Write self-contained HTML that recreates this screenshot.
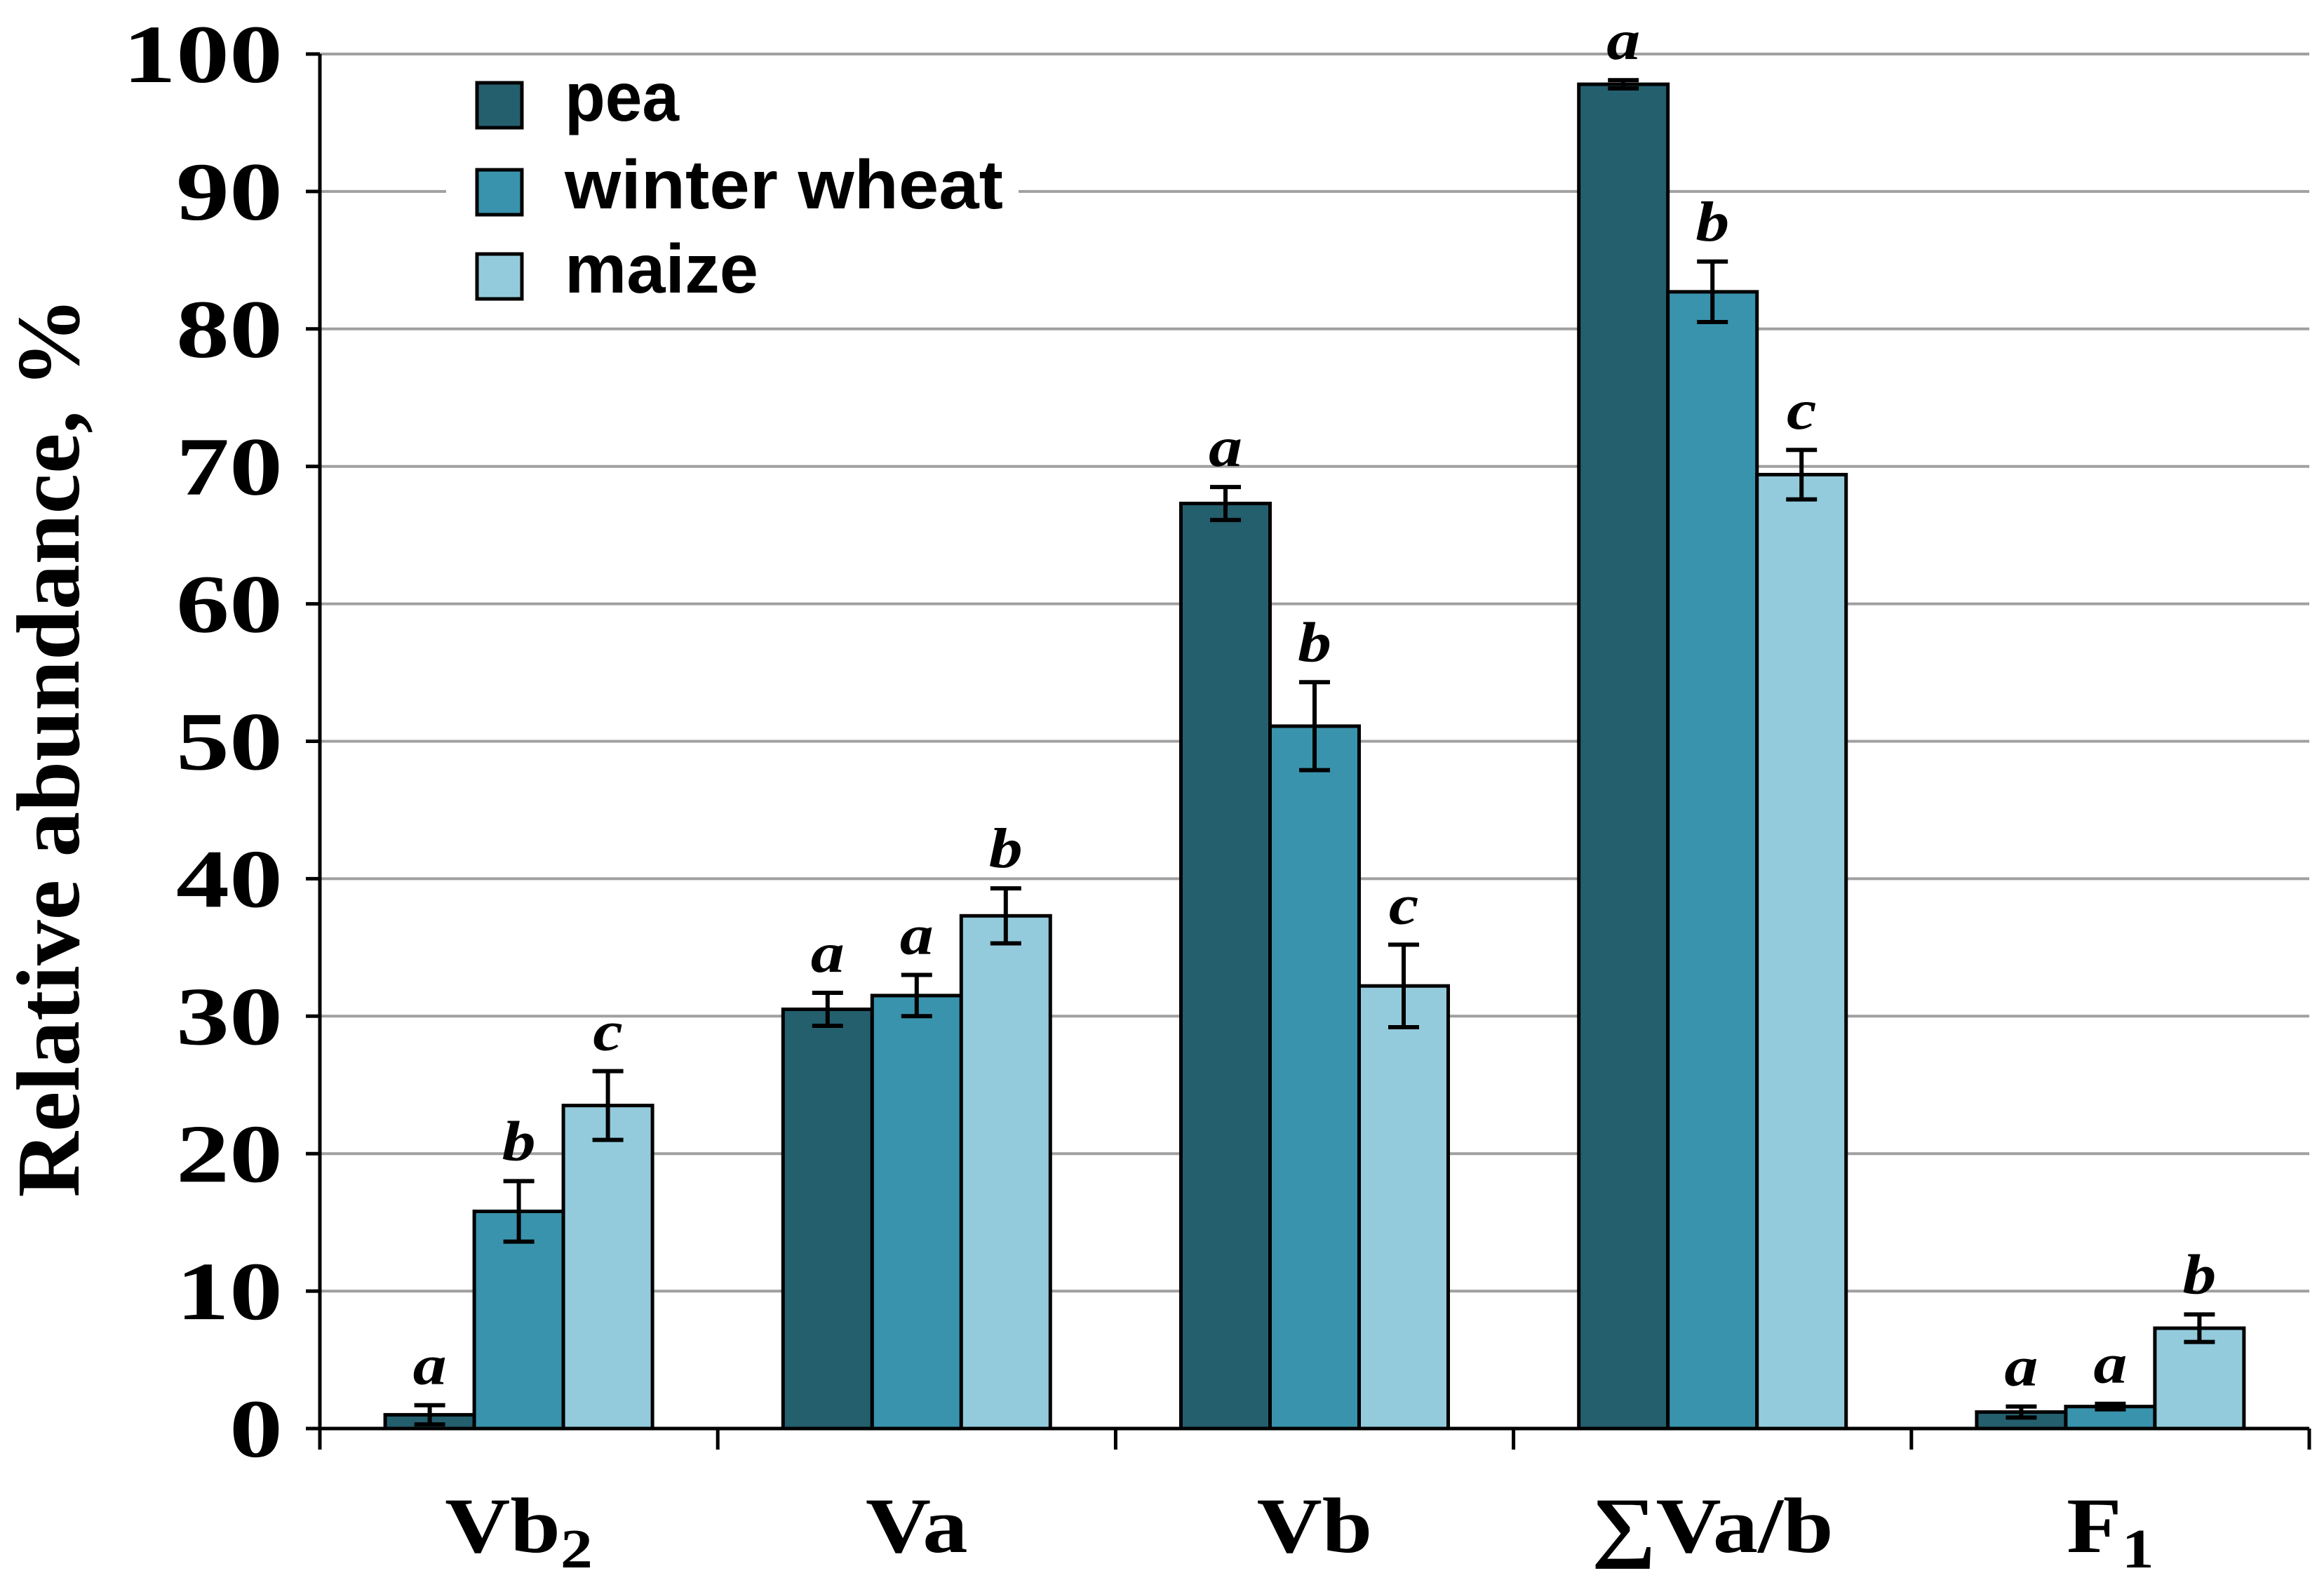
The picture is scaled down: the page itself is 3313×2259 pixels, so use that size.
<!DOCTYPE html>
<html><head><meta charset="utf-8"><style>
html,body{margin:0;padding:0;background:#fff;width:3313px;height:2259px;overflow:hidden}
svg{display:block}
</style></head><body>
<svg id="chart" width="3313" height="2259" viewBox="0 0 3313 2259" xmlns="http://www.w3.org/2000/svg">
<g id="grid"></g>
<g id="bars"></g>
<g id="axes"></g>
<text transform="translate(112,1065) rotate(-90)" text-anchor="middle" font-family="Liberation Serif, serif" font-weight="bold" font-size="128" textLength="1283" lengthAdjust="spacingAndGlyphs">Relative abundance, %</text>
<g>
<rect x="636" y="100" width="816" height="350" fill="#fff"/>
<rect x="680" y="118" width="64" height="64" fill="#245f6e" stroke="#000" stroke-width="5"/>
<text x="805" y="172" font-family="Liberation Sans, sans-serif" font-weight="bold" font-size="98" textLength="163" lengthAdjust="spacingAndGlyphs">pea</text>
<rect x="680" y="242" width="64" height="64" fill="#3a93ad" stroke="#000" stroke-width="5"/>
<text x="805" y="297" font-family="Liberation Sans, sans-serif" font-weight="bold" font-size="98" textLength="625" lengthAdjust="spacingAndGlyphs">winter wheat</text>
<rect x="680" y="362" width="64" height="64" fill="#93cbdc" stroke="#000" stroke-width="5"/>
<text x="805" y="417" font-family="Liberation Sans, sans-serif" font-weight="bold" font-size="98" textLength="276" lengthAdjust="spacingAndGlyphs">maize</text>
</g>
</svg>
<script>
const categories = ["Vb2","Va","Vb","ΣVa/b","F1"];
const seriesNames = ["pea","winter wheat","maize"];
const peaValues = [1.0, 30.5, 67.3, 97.8, 1.2];
const wheatValues = [15.8, 31.5, 51.1, 82.7, 1.6];
const maizeValues = [23.5, 37.3, 32.2, 69.4, 7.3];
const peaErrors = [0.7, 1.2, 1.2, 0.3, 0.4];
const wheatErrors = [2.2, 1.5, 3.2, 2.2, 0.2];
const maizeErrors = [2.5, 2.0, 3.0, 1.8, 1.0];
const peaLetters = ["a","a","a","a","a"];
const wheatLetters = ["b","a","b","b","a"];
const maizeLetters = ["c","b","c","c","b"];
const yTicks = [0,10,20,30,40,50,60,70,80,90,100];

const NS="http://www.w3.org/2000/svg";
const X0=456, X1=3292, Y0=2036, Y100=77;
const colors=["#245f6e","#3a93ad","#93cbdc"];
const catW=(X1-X0)/categories.length;
const barW=127, groupOff=(catW-3*barW)/2;
function y(v){return Y0-(Y0-Y100)*v/100;}
function xBar(ci,si){return X0+ci*catW+groupOff+si*barW;}
function mk(tag,attrs,parent){const e=document.createElementNS(NS,tag);for(const k in attrs)e.setAttribute(k,attrs[k]);parent.appendChild(e);return e;}
const grid=document.getElementById('grid'),bars=document.getElementById('bars'),axes=document.getElementById('axes');
yTicks.forEach(t=>{
  if(t>0){const l=mk('line',{x1:X0,x2:X1,y1:y(t),y2:y(t),stroke:'#a0a0a0','stroke-width':4},grid);
  
  }
  const tk=mk('line',{x1:X0-20,x2:X0,y1:y(t),y2:y(t),stroke:'#000','stroke-width':5},axes);
  
  
  const s=String(t);
  const tx=mk('text',{x:403,y:y(t)+40,'text-anchor':'end','font-family':'Liberation Serif, serif','font-weight':'bold','font-size':118,textLength:s.length*76,lengthAdjust:'spacingAndGlyphs'},axes);
  tx.textContent=s;
  
  
});
const vals=[peaValues,wheatValues,maizeValues], errs=[peaErrors,wheatErrors,maizeErrors], lets=[peaLetters,wheatLetters,maizeLetters];
categories.forEach((c,ci)=>{
  for(let si=0;si<3;si++){
    const v=vals[si][ci], e=errs[si][ci], x=xBar(ci,si);
    const r=mk('rect',{x:x,y:y(v),width:barW,height:Y0-y(v),fill:colors[si],stroke:'#000','stroke-width':5},bars);
    
    
    const cx=x+barW/2;
    const g=mk('g',{stroke:'#000','stroke-width':6},bars);
    
    
    mk('line',{x1:cx,x2:cx,y1:y(v+e),y2:y(v-e)},g);
    mk('line',{x1:cx-22,x2:cx+22,y1:y(v+e),y2:y(v+e)},g);
    mk('line',{x1:cx-22,x2:cx+22,y1:y(v-e),y2:y(v-e)},g);
    const lg=mk('g',{transform:'translate('+cx+','+(y(v+e)-30)+') scale(1.2,1)'},bars);
    const lt=mk('text',{x:0,y:0,'text-anchor':'middle','font-family':'Liberation Serif, serif','font-weight':'bold','font-style':'italic','font-size':80},lg);
    lt.textContent=lets[si][ci];
    
    
  }
});
mk('line',{x1:X0,x2:X0,y1:Y100,y2:Y0+30,stroke:'#000','stroke-width':5},axes);
mk('line',{x1:X0,x2:X1,y1:Y0,y2:Y0,stroke:'#000','stroke-width':5},axes);
for(let i=1;i<=categories.length;i++){
  const t=mk('line',{x1:X0+i*catW,x2:X0+i*catW,y1:Y0,y2:Y0+30,stroke:'#000','stroke-width':5},axes);
  
  
}
const catHtml={"Vb2":["Vb","2"],"Va":["Va",""],"Vb":["Vb",""],"ΣVa/b":["∑Va/b",""],"F1":["F","1"]};
categories.forEach((c,ci)=>{
  const g=mk('g',{transform:'translate('+(X0+(ci+0.5)*catW)+',2212) scale(1.15,1)'},axes);
  const t=mk('text',{x:0,y:0,'text-anchor':'middle','font-family':'Liberation Serif, serif','font-weight':'bold','font-size':112},g);
  
  
  const p=catHtml[c]||[c,""];
  const s1=mk('tspan',{},t); s1.textContent=p[0];
  if(p[1]){const s2=mk('tspan',{dy:22,'font-size':80},t); s2.textContent=p[1];}
});
</script>
</body></html>
